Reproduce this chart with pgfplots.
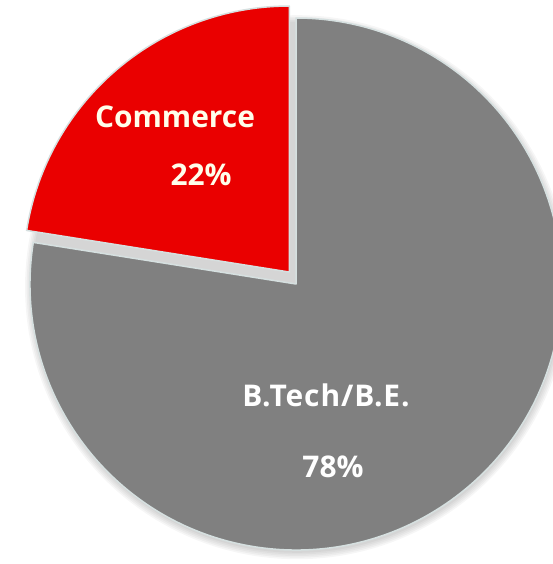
\documentclass[border=0pt]{standalone}
\usepackage{pgfplots}
\pgfplotsset{compat=1.18}
\usepackage{pgfplotstable}
\usepackage{fontspec}
\setmainfont{Open Sans}

\definecolor{slicered}{RGB}{234,0,0}
\definecolor{slicegray}{RGB}{128,128,128}
\definecolor{edge}{RGB}{214,224,224}

% share of each branch, in percent
\pgfplotstableread{
label value
Commerce 22.5
BTech 77.5
}\piedata

\pgfplotstablegetelem{0}{value}\of\piedata
\let\vcom\pgfplotsretval
\pgfmathsetmacro\acom{90+3.6*\vcom}   % end angle of the commerce slice
\pgfmathsetmacro\gx{cos(\acom)}
\pgfmathsetmacro\gy{sin(\acom)}
% commerce slice is pulled out a little
\pgfmathsetmacro\dx{-0.025}
\pgfmathsetmacro\dy{0.045}
\pgfmathsetmacro\dyt{\dy+1}

\tikzset{lbl/.style={text=white, anchor=base, inner sep=0pt,
  font=\fontsize{30}{36}\selectfont\bfseries}}

\begin{document}
\begin{tikzpicture}
  \begin{axis}[
    hide axis,
    scale only axis,
    width=553bp, height=564bp,
    xmin=-1.1128, xmax=0.9662,
    ymin=-1.0526, ymax=1.0677,
    clip=true,
    ]
    % soft shadow under the pie
    \pgfplotsinvokeforeach{1,...,5}{
      \fill[black, opacity=0.035] (axis cs:0.004,-0.012) circle[radius=264bp+1.6bp*#1];
    }
    % B.Tech/B.E.
    \addplot[fill=slicegray, draw=edge, line width=1.5bp, line join=round]
      coordinates {(0,0) (\gx,\gy)}
      arc[start angle=\acom, end angle=450, radius=266bp] -- cycle;
    % Commerce
    \addplot[fill=slicered, draw=edge, line width=1.5bp, line join=round]
      coordinates {(\dx,\dy) (\dx,\dyt)}
      arc[start angle=90, end angle=\acom, radius=266bp] -- cycle;

    \node[lbl, text=white!92!yellow] at (axis cs:-0.455,0.5865) {Commerce};
    \node[lbl, text=white!92!yellow] at (axis cs:-0.357,0.372) {22\%};
    \node[lbl] at (axis cs:0.113,-0.462) {\addfontfeature{LetterSpace=3}B.Tech/B.E.};
    \node[lbl] at (axis cs:0.139,-0.729) {78\%};
  \end{axis}
  \pgfresetboundingbox
  \path (current axis.south west) rectangle (current axis.north east);
\end{tikzpicture}
\end{document}
